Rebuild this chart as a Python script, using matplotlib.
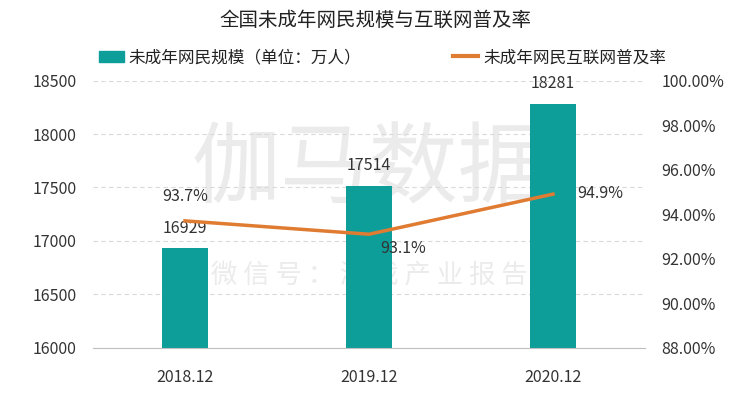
import matplotlib
matplotlib.use("Agg")
import matplotlib.pyplot as plt
from matplotlib.lines import Line2D
from matplotlib.patches import Patch

plt.rcParams['font.family'] = ['Noto Sans CJK SC', 'DejaVu Sans']

categories = ["2018.12", "2019.12", "2020.12"]
users = [16929, 17514, 18281]
rate = [93.7, 93.1, 94.9]
rate_labels = ["93.7%", "93.1%", "94.9%"]

bar_color = "#0E9E9A"
line_color = "#E07B32"

fig = plt.figure(figsize=(7.5, 3.93), dpi=100)
ax = fig.add_axes([0.124, 0.115, 0.736, 0.68])
x = list(range(len(categories)))
ax.bar(x, users, width=0.25, color=bar_color, zorder=2)
ax.set_ylim(16000, 18500)
ax.set_yticks(range(16000, 18501, 500))
ax.set_xlim(-0.5, 2.5)
ax.set_xticks(x)
ax.set_xticklabels(categories)
for s in ["top", "right", "left"]:
    ax.spines[s].set_visible(False)
ax.spines["bottom"].set_color("#BFBFBF")
ax.tick_params(axis="both", length=0, labelsize=11.5, colors="#333333")
ax.tick_params(axis="x", pad=15)
ax.tick_params(axis="y", pad=12)
ax.grid(axis="y", linestyle=(0, (4, 3)), color="#D9D9D9", linewidth=0.8, zorder=0)
for xi, v in zip(x, users):
    ax.text(xi, v + 110, str(v), ha="center", va="bottom", fontsize=11.5, color="#333333", zorder=5)

# watermarks (behind bars)
ax.text(0.5, 0.66, "伽马数据", transform=ax.transAxes, ha="center", va="center", fontsize=64,
        color="#E3E3E3", zorder=1, alpha=0.7)
ax.text(0.5, 0.27, "微 信 号 ： 游 戏 产 业 报 告", transform=ax.transAxes, ha="center", va="center",
        fontsize=19, color="#E3E3E3", zorder=1, alpha=0.7)

ax2 = ax.twinx()
ax2.plot(x, rate, color=line_color, linewidth=2.5, zorder=3)
ax2.set_ylim(88, 100)
ax2.set_yticks(range(88, 101, 2))
ax2.set_yticklabels([f"{t:.2f}%" for t in range(88, 101, 2)])
for s in ["top", "right", "left", "bottom"]:
    ax2.spines[s].set_visible(False)
ax2.tick_params(axis="y", length=0, labelsize=11.5, colors="#333333", pad=12)
offsets = [(0, 0.7, "center", "bottom"), (0.06, -0.25, "left", "top"), (0.13, 0.05, "left", "center")]
for xi, v, lab, (dx, dy, ha, va) in zip(x, rate, rate_labels, offsets):
    ax2.text(xi + dx, v + dy, lab, ha=ha, va=va, fontsize=11.5, color="#333333", zorder=5)

fig.text(0.5, 0.947, "全国未成年网民规模与互联网普及率", ha="center", va="center", fontsize=14, color="#222222")
handles = [Patch(color=bar_color, label="未成年网民规模（单位：万人）"),
           Line2D([0], [0], color=line_color, linewidth=3, label="未成年网民互联网普及率")]
fig.legend(handles=handles, loc="center", bbox_to_anchor=(0.51, 0.853), ncol=2, frameon=False,
           fontsize=12, handlelength=1.5, handletextpad=0.3, columnspacing=5.5, labelcolor="#222222")

fig.savefig("out.png", dpi=100)
